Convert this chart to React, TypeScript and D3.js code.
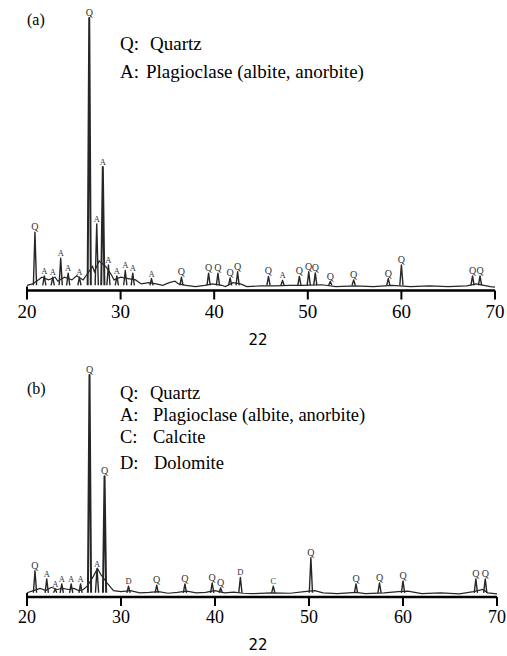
import React from "react";
import * as d3 from "d3";

// 2-theta ticks shared by both panels
const ticks = [20, 30, 40, 50, 60, 70];

// panel (a): peaks [2theta, relative intensity, phase]
const peaksA: [number, number, string][] = [
  [20.85, 20.7, "Q"],
  [21.85, 4.5, "A"],
  [22.75, 4, "A"],
  [23.6, 11, "A"],
  [24.4, 5.5, "A"],
  [25.6, 4, "A"],
  [26.65, 100, "Q"],
  [27.45, 23.7, "A"],
  [28.1, 44.8, "A"],
  [28.7, 8.5, "A"],
  [29.6, 4.5, "A"],
  [30.5, 6.5, "A"],
  [31.3, 5.5, "A"],
  [33.3, 3.5, "A"],
  [36.5, 4, "Q"],
  [39.4, 5.5, "Q"],
  [40.4, 5.5, "Q"],
  [41.7, 3.7, "Q"],
  [42.5, 6, "Q"],
  [45.8, 4.3, "Q"],
  [47.3, 2.8, "A"],
  [49.1, 4.3, "Q"],
  [50.1, 6, "Q"],
  [50.8, 5.6, "Q"],
  [52.4, 2.4, "Q"],
  [54.9, 3, "Q"],
  [58.6, 3.5, "Q"],
  [60.0, 8.5, "Q"],
  [67.6, 4.5, "Q"],
  [68.4, 4.5, "Q"],
];

// panel (a): background trace [2theta, intensity]
const backgroundA: [number, number][] = [
  [20.0, 1], [20.6, 1.5], [21.2, 3], [21.6, 4], [22.3, 3], [23.0, 4],
  [23.3, 2.5], [24.0, 4], [24.8, 3], [25.3, 4.5], [26.0, 3], [26.4, 5],
  [27.0, 8], [27.2, 6], [27.7, 10], [28.4, 8], [29.0, 5], [29.3, 3],
  [30.0, 4], [30.8, 3.5], [31.6, 3], [32.2, 1.5], [33.0, 2], [33.8, 1.5],
  [34.5, 1], [35.2, 2], [35.8, 2.5], [36.2, 1.5], [37.0, 1], [38.0, 0.5],
  [39.0, 1], [39.8, 1.5], [40.8, 1], [41.2, 0.5], [42.0, 2], [42.8, 1.5],
  [43.5, 0.5], [45.0, 0.8], [46.5, 0.8], [48.0, 1], [49.5, 1], [51.5, 1.2],
  [53.0, 0.5], [55.0, 0.8], [57.0, 0.5], [59.0, 1], [61.0, 0.5], [63.0, 0.8],
  [65.0, 0.5], [67.0, 0.8], [68.0, 1.5], [69.5, 0.5], [70.0, 0.3],
];

// panel (b)
const peaksB: [number, number, string][] = [
  [20.85, 11, "Q"],
  [22.1, 7.3, "A"],
  [23.0, 2.7, "A"],
  [23.7, 5, "A"],
  [24.7, 5, "A"],
  [25.7, 5, "A"],
  [26.65, 100, "Q"],
  [27.45, 12, "A"],
  [28.25, 54, "Q"],
  [30.8, 4, "D"],
  [33.8, 4.5, "Q"],
  [36.8, 5, "Q"],
  [39.7, 5.5, "Q"],
  [40.6, 3.2, "Q"],
  [42.7, 8, "D"],
  [46.2, 4, "C"],
  [50.2, 17, "Q"],
  [55.0, 5, "Q"],
  [57.5, 5.5, "Q"],
  [60.0, 6.4, "Q"],
  [67.75, 7.3, "Q"],
  [68.75, 7.3, "Q"],
];

const backgroundB: [number, number][] = [
  [20.0, 1], [20.7, 2], [21.4, 3], [22.0, 2], [22.6, 3.5], [23.2, 2.5],
  [23.8, 3], [24.4, 2.5], [25.0, 3], [25.5, 2], [26.0, 2.5], [26.4, 4],
  [27.0, 8], [27.5, 12], [27.9, 9], [28.6, 5], [29.2, 2], [30.0, 1.5],
  [31.0, 2], [32.0, 1], [33.0, 1.2], [34.0, 1.5], [35.0, 0.8], [36.0, 1.2],
  [37.0, 1.8], [38.0, 1], [39.0, 1.2], [40.0, 2], [41.0, 1], [42.0, 1.3],
  [43.0, 0.8], [44.0, 0.6], [46.0, 1], [48.0, 0.8], [49.5, 1.5], [50.6, 2],
  [51.5, 1], [53.0, 0.6], [55.0, 1.2], [56.0, 0.6], [58.0, 1], [59.5, 1.5],
  [60.5, 1.8], [62.0, 0.6], [64.0, 1], [66.0, 0.5], [67.5, 1.5], [68.5, 2.5],
  [69.0, 1], [70.0, 0.5],
];

const legendA = [
  ["Q:", "Quartz", 150],
  ["A:", "Plagioclase (albite, anorbite)", 146],
];
const legendB = [
  ["Q:", "Quartz", 150],
  ["A:", "Plagioclase (albite, anorbite)", 153],
  ["C:", "Calcite", 153],
  ["D:", "Dolomite", 154],
];

const serif = "'Liberation Serif', 'Times New Roman', serif";
const ink = "#262626";

type PanelProps = {
  tag: string;
  peaks: [number, number, string][];
  background: [number, number][];
  legend: (string | number)[][];
  legendY: number[];
  legendSize: number;
  axisY: number;
  y0: number;
  yTop: number;
  tagY: number;
  tickFont: number;
  tickLabelY: number;
  titleY: number;
  x1: number;
};

const Panel = (p: PanelProps) => {
  const x = d3.scaleLinear().domain([20, 70]).range([27, p.x1]);
  const y = d3.scaleLinear().domain([0, 100]).range([p.y0, p.yTop]);
  const line = d3
    .line<[number, number]>()
    .x((d) => x(d[0]))
    .y((d) => y(d[1]));
  const hw = 0.17;

  return (
    <g>
      <text x={27} y={p.tagY} fontFamily={serif} fontSize={16}>
        {p.tag}
      </text>
      {p.legend.map(([k, v, vx], i) => (
        <g key={i} fontFamily={serif} fontSize={p.legendSize}>
          <text x={120} y={p.legendY[i]}>{k}</text>
          <text x={vx as number} y={p.legendY[i]}>{v}</text>
        </g>
      ))}
      <path d={line(p.background) || ""} fill="none" stroke={ink} strokeWidth={1.2} />
      {p.peaks.map(([pos, h], i) => (
        <path
          key={i}
          d={
            line([
              [pos - hw, 1],
              [pos, h],
              [pos + hw, 1],
            ]) || ""
          }
          fill="none"
          stroke={ink}
          strokeWidth={h > 30 ? 2 : 1.4}
          strokeLinejoin="round"
        />
      ))}
      {p.peaks.map(([pos, h, lab], i) => (
        <text
          key={"l" + i}
          x={x(pos)}
          y={y(h) - 2}
          textAnchor="middle"
          fontFamily={serif}
          fontSize={lab === "Q" ? 10 : 8.5}
          fill="#333"
        >
          {lab}
        </text>
      ))}
      <line x1={x(20)} x2={x(70)} y1={p.axisY} y2={p.axisY} stroke="#000" strokeWidth={2.5} />
      {ticks.map((t) => (
        <g key={t}>
          <line
            x1={x(t)}
            x2={x(t)}
            y1={t === 20 ? p.axisY - 4 : p.axisY}
            y2={p.axisY + 9}
            stroke="#000"
            strokeWidth={2}
          />
          <text
            x={x(t)}
            y={p.tickLabelY}
            textAnchor="middle"
            fontFamily={serif}
            fontSize={p.tickFont}
          >
            {t}
          </text>
        </g>
      ))}
      <text
        x={258}
        y={p.titleY}
        textAnchor="middle"
        fontFamily="'DejaVu Sans', sans-serif"
        fontSize={15}
      >
        22
      </text>
    </g>
  );
};

export default function App() {
  return (
    <svg
      width={507}
      height={656}
      style={{ position: "absolute", left: 0, top: 0, background: "#fff" }}
    >
      <Panel
        tag="(a)"
        peaks={peaksA}
        background={backgroundA}
        legend={legendA}
        legendY={[50, 78]}
        legendSize={19}
        axisY={290.5}
        y0={288}
        yTop={18}
        tagY={25}
        tickFont={19}
        tickLabelY={318}
        titleY={345}
        x1={495}
      />
      <Panel
        tag="(b)"
        peaks={peaksB}
        background={backgroundB}
        legend={legendB}
        legendY={[399, 421, 443, 469]}
        legendSize={18.5}
        axisY={597}
        y0={595}
        yTop={375}
        tagY={394}
        tickFont={18}
        tickLabelY={623}
        titleY={650}
        x1={497}
      />
    </svg>
  );
}
